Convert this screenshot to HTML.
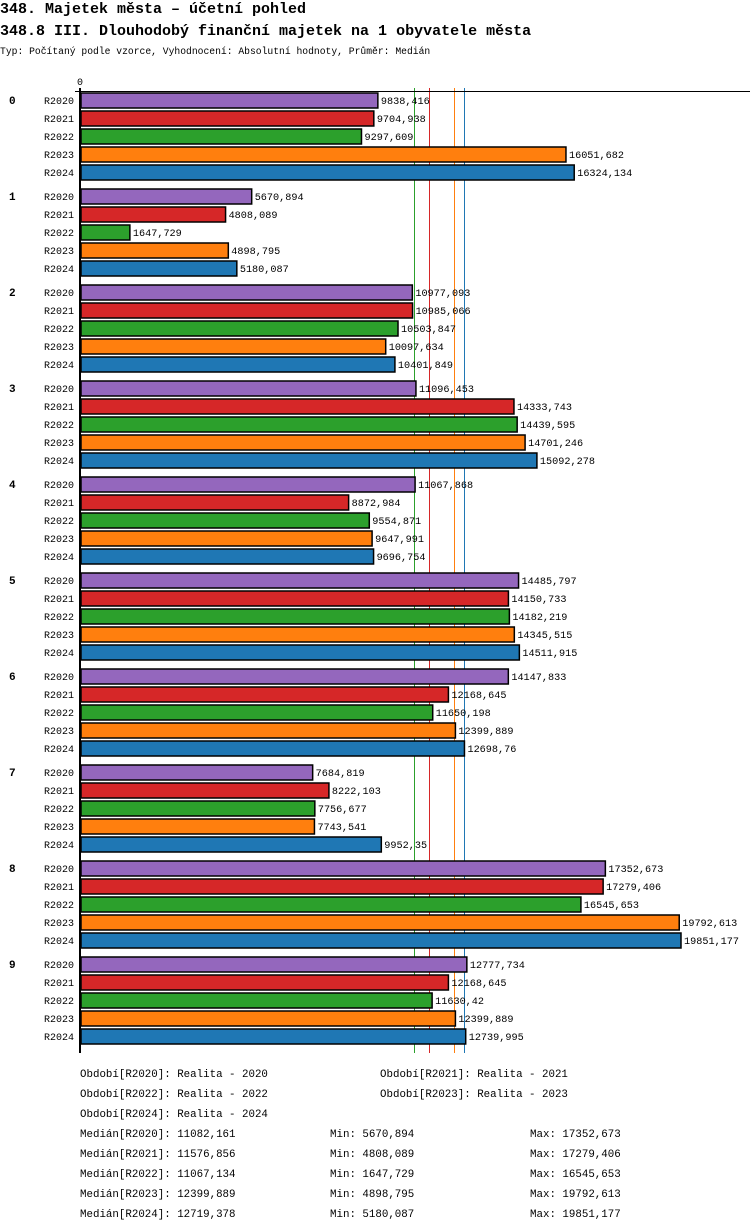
<!DOCTYPE html>
<html><head><meta charset="utf-8">
<style>
body{margin:0;background:#fff;width:750px;height:1232px;overflow:hidden}
svg{display:block}
text{font-family:"Liberation Mono","DejaVu Sans Mono",monospace;font-size:11px;fill:#000}
</style></head>
<body>
<svg id="chart" width="750" height="1232" xmlns="http://www.w3.org/2000/svg">
<text x="0" y="13" style="font-size:15px;font-weight:bold">348. Majetek města – účetní pohled</text>
<text x="0" y="35" style="font-size:15px;font-weight:bold">348.8 III. Dlouhodobý finanční majetek na 1 obyvatele města</text>
<text x="0" y="54" style="font-size:9.7px">Typ: Počítaný podle vzorce, Vyhodnocení: Absolutní hodnoty, Průměr: Medián</text>
<g id="plot"></g>
<g id="legend"></g>
</svg>
<script>
const groups=["0","1","2","3","4","5","6","7","8","9"];
const series=["R2020","R2021","R2022","R2023","R2024"];
const colors=["#9467bd","#d62728","#2ca02c","#ff7f0e","#1f77b4"];
const v2020=[9838.416,5670.894,10977.093,11096.453,11067.868,14485.797,14147.833,7684.819,17352.673,12777.734];
const v2021=[9704.938,4808.089,10985.066,14333.743,8872.984,14150.733,12168.645,8222.103,17279.406,12168.645];
const v2022=[9297.609,1647.729,10503.847,14439.595,9554.871,14182.219,11650.198,7756.677,16545.653,11630.42];
const v2023=[16051.682,4898.795,10097.634,14701.246,9647.991,14345.515,12399.889,7743.541,19792.613,12399.889];
const v2024=[16324.134,5180.087,10401.849,15092.278,9696.754,14511.915,12698.76,9952.35,19851.177,12739.995];
const labels2020=["9838,416","5670,894","10977,093","11096,453","11067,868","14485,797","14147,833","7684,819","17352,673","12777,734"];
const labels2021=["9704,938","4808,089","10985,066","14333,743","8872,984","14150,733","12168,645","8222,103","17279,406","12168,645"];
const labels2022=["9297,609","1647,729","10503,847","14439,595","9554,871","14182,219","11650,198","7756,677","16545,653","11630,42"];
const labels2023=["16051,682","4898,795","10097,634","14701,246","9647,991","14345,515","12399,889","7743,541","19792,613","12399,889"];
const labels2024=["16324,134","5180,087","10401,849","15092,278","9696,754","14511,915","12698,76","9952,35","19851,177","12739,995"];
const medians=[11082.161,11576.856,11067.134,12399.889,12719.378];
const medianLabels=["11082,161","11576,856","11067,134","12399,889","12719,378"];
const minLabels=["5670,894","4808,089","1647,729","4898,795","5180,087"];
const maxLabels=["17352,673","17279,406","16545,653","19792,613","19851,177"];
const periodNames=["Realita - 2020","Realita - 2021","Realita - 2022","Realita - 2023","Realita - 2024"];

const vals=[v2020,v2021,v2022,v2023,v2024];
const labs=[labels2020,labels2021,labels2022,labels2023,labels2024];
const NS="http://www.w3.org/2000/svg";
const X0=80, K=601/19851.177;
const x=v=>X0+v*K;
const rowY=(g,s)=>92+g*96+s*18;
const plot=document.getElementById('plot');
function mk(t,a,p){const e=document.createElementNS(NS,t);for(const k in a)e.setAttribute(k,a[k]);(p||plot).appendChild(e);return e;}

// median lines (behind bars); R2022 drawn last so it sits on top of R2020
[0,1,3,4,2].forEach(i=>{
  const m=medians[i];
  const px=Math.floor(x(m))-1;
  const l=mk('rect',{x:px,y:88,width:1,height:965,fill:colors[i],'shape-rendering':'crispEdges'});
  
  
});
// axes
let ax=mk('rect',{x:75,y:91,width:675,height:1,fill:'#000','shape-rendering':'crispEdges'});


let ay=mk('rect',{x:79,y:88,width:2,height:965,fill:'#000','shape-rendering':'crispEdges'});


let zt=mk('text',{x:77,y:85,style:'font-size:10px'});zt.textContent='0';



groups.forEach((g,gi)=>{
  const gt=mk('text',{x:9,y:rowY(gi,0)+12,style:'font-weight:bold'});gt.textContent=g;
  
  
  series.forEach((s,si)=>{
    const y=rowY(gi,si);
    const st=mk('text',{x:44,y:y+12,style:'font-size:10px'});st.textContent=s;
    
    
    const r=mk('rect',{x:81,y:y+1,width:Math.max(0,x(vals[si][gi])-81),height:15,fill:colors[si],stroke:'#000','stroke-width':1.5});
    
    
    const vt=mk('text',{x:x(vals[si][gi])+3,y:y+12,style:'font-size:10.2px'});vt.textContent=labs[si][gi];
    
    
  });
});

const leg=document.getElementById('legend');
const lpos=[[80,1077],[380,1077],[80,1097],[380,1097],[80,1117]];
series.forEach((s,i)=>{
  const t=mk('text',{x:lpos[i][0],y:lpos[i][1],style:'font-size:10.8px'},leg);
  t.textContent='Období['+s+']: '+periodNames[i];
  
  
  const y=1137+i*20;
  const a=mk('text',{x:80,y:y,style:'font-size:10.8px'},leg);a.textContent='Medián['+s+']: '+medianLabels[i];
  
  
  const b=mk('text',{x:330,y:y,style:'font-size:10.8px'},leg);b.textContent='Min: '+minLabels[i];
  
  
  const c=mk('text',{x:530,y:y,style:'font-size:10.8px'},leg);c.textContent='Max: '+maxLabels[i];
  
  
});
</script>
</body></html>
